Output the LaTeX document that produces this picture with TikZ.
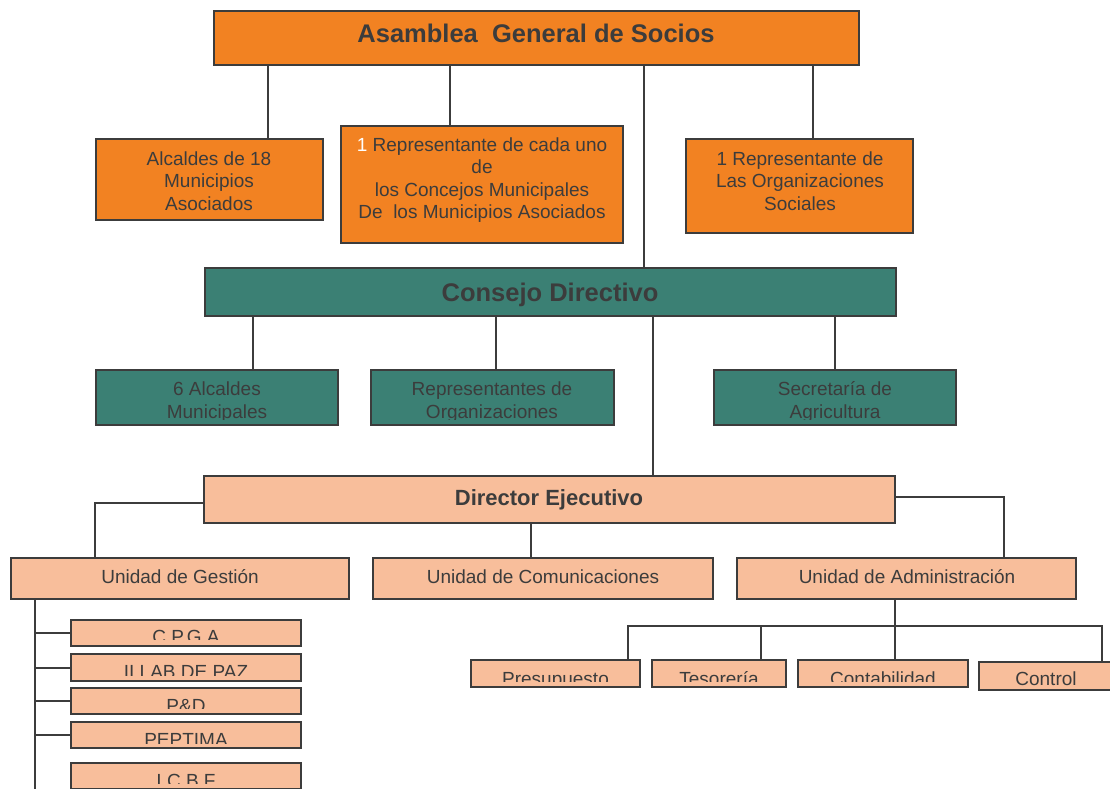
\documentclass[tikz,border=0pt]{standalone}
\usepackage{fontspec}
\setmainfont{Liberation Sans}
\definecolor{asamcol}{RGB}{242,130,34}
\definecolor{conscol}{RGB}{59,128,116}
\definecolor{dircol}{RGB}{248,190,155}
\definecolor{ink}{RGB}{60,60,60}

% a box given by its corners (x1,y1) and (x2,y2)
\newcommand\orgnode[6]{%
  \pgfmathsetmacro\bw{#4-#2}\pgfmathsetmacro\bh{#5-#3}%
  \node[#6, minimum width=\bw pt, minimum height=\bh pt] (#1) at ({(#2+#4)/2},{(#3+#5)/2}) {};}
% clip to the inside of a box, cut a little above its bottom edge
\newcommand\cliptobox[2]{\clip ([shift={(1pt,#2pt)}]#1.south west) rectangle ([shift={(-1pt,-1pt)}]#1.north east);}

\tikzset{
  orgbox/.style={draw=ink, line width=1.6pt, inner sep=0pt, outer sep=0pt},
  asambox/.style={orgbox, fill=asamcol},
  consbox/.style={orgbox, fill=conscol},
  dirbox/.style={orgbox, fill=dircol},
  link/.style={draw=ink, line width=1.6pt},
  label/.style={text=ink, inner sep=0pt, align=center, font=\fontsize{19}{22.5}\selectfont},
  headlabel/.style={text=ink, inner sep=0pt, font=\bfseries\fontsize{25.5}{28}\selectfont},
}

\begin{document}
\begin{tikzpicture}[x=1pt, y=-1pt]
\useasboundingbox (0,0) rectangle (1110,789);

% ---- boxes ----
\orgnode{asam}{214}{11}{859}{65}{asambox}
\orgnode{alc}{96}{139}{323}{220}{asambox}
\orgnode{rep}{341}{126}{623}{243}{asambox}
\orgnode{org}{686}{139}{913}{233}{asambox}
\orgnode{cons}{205}{268}{896}{316}{consbox}
\orgnode{alcsix}{96}{370}{338}{425}{consbox}
\orgnode{repo}{371}{370}{614}{425}{consbox}
\orgnode{sec}{714}{370}{956}{425}{consbox}
\orgnode{dir}{204}{476}{895}{523}{dirbox}
\orgnode{ges}{11}{558}{349}{599}{dirbox}
\orgnode{com}{373}{558}{713}{599}{dirbox}
\orgnode{adm}{737}{558}{1076}{599}{dirbox}
\orgnode{cpga}{71}{620}{301}{646}{dirbox}
\orgnode{lab}{71}{654}{301}{681}{dirbox}
\orgnode{pd}{71}{688}{301}{714}{dirbox}
\orgnode{pep}{71}{722}{301}{748}{dirbox}
\orgnode{icbf}{71}{763}{301}{789}{dirbox}
\orgnode{pre}{471}{660}{640}{687}{dirbox}
\orgnode{tes}{652}{660}{786}{687}{dirbox}
\orgnode{cont}{798}{660}{968}{687}{dirbox}
\orgnode{ctrl}{979}{662}{1114}{690}{dirbox}

% ---- texts ----
\node[headlabel, anchor=base] (asam-t) at (536,43) {Asamblea\ \ General de Socios};
\node[label] (alc-t) at (209,181) {Alcaldes de 18\\Municipios\\Asociados};
\node[label] (rep-t) at (482,180) {{\color{white}1} Representante de cada uno\\de\\los Concejos Municipales\\De\ \ los Municipios Asociados};
\node[label] (org-t) at (800,181) {1 Representante de\\Las Organizaciones\\Sociales};
\node[headlabel, anchor=base] (cons-t) at (550,301) {Consejo Directivo};
\begin{scope}\cliptobox{alcsix}{6}
  \node[label] (alcsix-t) at (217,402) {6 Alcaldes\\Municipales};
\end{scope}
\begin{scope}\cliptobox{repo}{6}
  \node[label] (repo-t) at (492,402) {Representantes de\\Organizaciones};
\end{scope}
\begin{scope}\cliptobox{sec}{6}
  \node[label] (sec-t) at (835,402) {Secretaría de\\Agricultura};
\end{scope}
\node[headlabel, anchor=base, font=\bfseries\fontsize{22}{26}\selectfont] (dir-t) at (549,505) {Director Ejecutivo};
\node[label, anchor=base] (ges-t) at (180,583) {Unidad de Gestión};
\node[label, anchor=base] (com-t) at (543,583) {Unidad de Comunicaciones};
\node[label, anchor=base] (adm-t) at (907,583) {Unidad de Administración};

\begin{scope}\cliptobox{cpga}{7}
  \node[label, anchor=base] (cpga-t) at (186,643) {C.P.G.A};
\end{scope}
\begin{scope}\cliptobox{lab}{6}
  \node[label, anchor=base] (lab-t) at (186,678) {II LAB DE PAZ};
\end{scope}
\begin{scope}\cliptobox{pd}{6}
  \node[label, anchor=base] (pd-t) at (186,712) {P\&D};
\end{scope}
\begin{scope}\cliptobox{pep}{5}
  \node[label, anchor=base] (pep-t) at (186,746) {PEPTIMA};
\end{scope}
\begin{scope}\cliptobox{icbf}{6}
  \node[label, anchor=base] (icbf-t) at (186,787) {I.C.B.F};
\end{scope}
\begin{scope}\cliptobox{pre}{6}
  \node[label, anchor=base] (pre-t) at (555.5,685.5) {Presupuesto};
\end{scope}
\begin{scope}\cliptobox{tes}{6}
  \node[label, anchor=base] (tes-t) at (719,685.5) {Tesorería};
\end{scope}
\begin{scope}\cliptobox{cont}{6}
  \node[label, anchor=base] (cont-t) at (883,685.5) {Contabilidad};
\end{scope}
\node[label, anchor=base] (ctrl-t) at (1046,685.5) {Control};

% ---- connectors ----
\coordinate (xa) at (268,0);
\coordinate (xb) at (450,0);
\coordinate (xc) at (644,0);
\coordinate (xd) at (813,0);
\draw[link] (xa |- asam.south) -- (xa |- alc.north);
\draw[link] (xb |- asam.south) -- (xb |- rep.north);
\draw[link] (xc |- asam.south) -- (xc |- cons.north);
\draw[link] (xd |- asam.south) -- (xd |- org.north);

\coordinate (xe) at (253,0);
\coordinate (xf) at (496,0);
\coordinate (xg) at (653,0);
\coordinate (xh) at (835,0);
\draw[link] (xe |- cons.south) -- (xe |- alcsix.north);
\draw[link] (xf |- cons.south) -- (xf |- repo.north);
\draw[link] (xg |- cons.south) -- (xg |- dir.north);
\draw[link] (xh |- cons.south) -- (xh |- sec.north);

\coordinate (xi) at (95,0);
\coordinate (xj) at (531,0);
\coordinate (xk) at (1004,0);
\draw[link] ([yshift=-3.5pt]dir.west) -| (xi |- ges.north);
\draw[link] (xj |- dir.south) -- (xj |- com.north);
\draw[link] ([yshift=2.5pt]dir.east) -| (xk |- adm.north);

% branch of the Unidad de Gestión
\coordinate (xl) at (35,0);
\coordinate (gesend) at (35,792);
\draw[link] (xl |- ges.south) -- (gesend);
\foreach \b/\s in {cpga/0,lab/-0.5,pd/0,pep/0}
  \draw[link] ([yshift=\s pt]xl |- \b.west) -- ([yshift=\s pt]\b.west);

% branch of the Unidad de Administración
\coordinate (xm) at (895,0);
\coordinate (xn) at (628,0);
\coordinate (xo) at (761,0);
\coordinate (xp) at (1102,0);
\coordinate (ybar) at (0,626);
\draw[link] (xm |- adm.south) -- (xm |- cont.north);
\draw[link] (xn |- pre.north) -- (xn |- ybar) -- (xp |- ybar) -- (xp |- ctrl.north);
\draw[link] (xo |- ybar) -- (xo |- tes.north);
\end{tikzpicture}
\end{document}
